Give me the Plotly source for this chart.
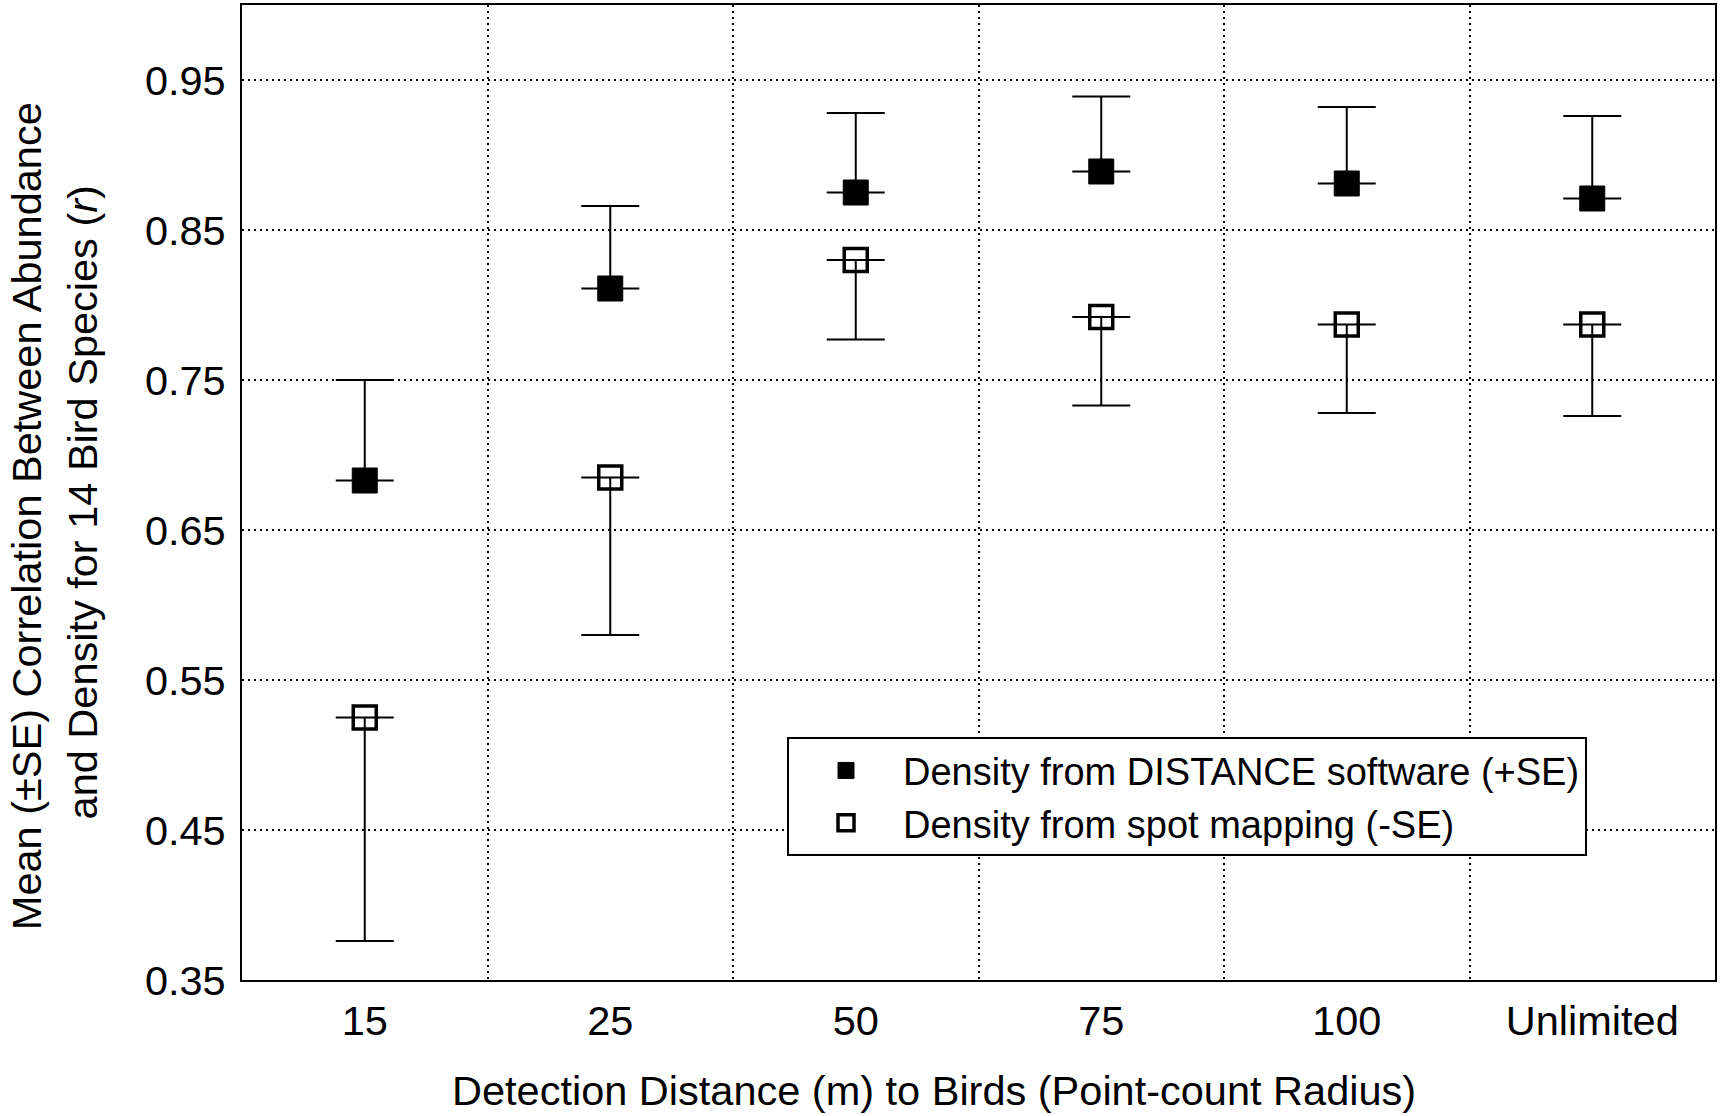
import plotly.graph_objects as go

categories = ["15", "25", "50", "75", "100", "Unlimited"]
distance_mean = [0.683, 0.811, 0.875, 0.889, 0.881, 0.871]
distance_se = [0.067, 0.055, 0.053, 0.050, 0.051, 0.055]
spot_mean = [0.525, 0.685, 0.830, 0.792, 0.787, 0.787]
spot_se = [0.149, 0.105, 0.053, 0.059, 0.059, 0.061]

y_ticks = [0.35, 0.45, 0.55, 0.65, 0.75, 0.85, 0.95]

FONT = "Liberation Sans, Arial, sans-serif"
FS = 41.5

fig = go.Figure()
fig.add_trace(go.Scatter(
    x=categories, y=distance_mean, mode="markers",
    name="Density from DISTANCE software (+SE)",
    marker=dict(symbol="square", size=25, color="black", line=dict(color="black", width=1)),
    error_y=dict(type="data", array=distance_se, arrayminus=[0] * len(distance_se),
                 symmetric=False, color="black", thickness=2, width=29),
))
fig.add_trace(go.Scatter(
    x=categories, y=spot_mean, mode="markers",
    name="Density from spot mapping (-SE)",
    marker=dict(symbol="square-open", size=23, color="black", line=dict(color="black", width=3.5)),
    error_y=dict(type="data", array=[0] * len(spot_se), arrayminus=spot_se,
                 symmetric=False, color="black", thickness=2, width=29),
))

fig.update_layout(
    width=1720, height=1116,
    margin=dict(l=242, r=3, t=5, b=136),
    paper_bgcolor="white", plot_bgcolor="white",
    font=dict(family=FONT, color="black", size=FS),
    showlegend=True,
    legend=dict(
        x=0.370, y=0.249, xanchor="left", yanchor="top",
        bordercolor="black", borderwidth=2, bgcolor="white",
        font=dict(size=38, family=FONT, color="black"),
        itemwidth=104,
    ),
    xaxis=dict(
        type="category", range=[-0.5, 5.5], tickson="boundaries",
        showgrid=True, gridcolor="black", gridwidth=1.5, griddash="2px,4px",
        showline=True, linecolor="black", linewidth=2, mirror=True,
        ticks="", tickfont=dict(size=FS, family=FONT),
        ticklabelstandoff=3,
    ),
    yaxis=dict(
        range=[0.35, 1.0], tickvals=y_ticks, ticktext=[f"{v:.2f}" for v in y_ticks],
        showgrid=True, gridcolor="black", gridwidth=1.5, griddash="2px,4px",
        showline=True, linecolor="black", linewidth=2, mirror=True,
        ticks="", tickfont=dict(size=FS, family=FONT),
        ticklabelstandoff=6, zeroline=False,
    ),
    annotations=[
        dict(text="Mean (±SE) Correlation Between Abundance", textangle=-90,
             xref="paper", yref="paper", x=-0.1458, y=0.476,
             xanchor="center", yanchor="middle", showarrow=False,
             font=dict(size=FS, family=FONT, color="black")),
        dict(text="and Density for 14 Bird Species (<i>r</i>)", textangle=-90,
             xref="paper", yref="paper", x=-0.1085, y=0.490,
             xanchor="center", yanchor="middle", showarrow=False,
             font=dict(size=FS, family=FONT, color="black")),
        dict(text="Detection Distance (m) to Birds (Point-count Radius)",
             xref="paper", yref="paper", x=0.470, y=-0.113,
             xanchor="center", yanchor="middle", showarrow=False,
             font=dict(size=FS, family=FONT, color="black")),
    ],
)

fig.write_html("out.html")
